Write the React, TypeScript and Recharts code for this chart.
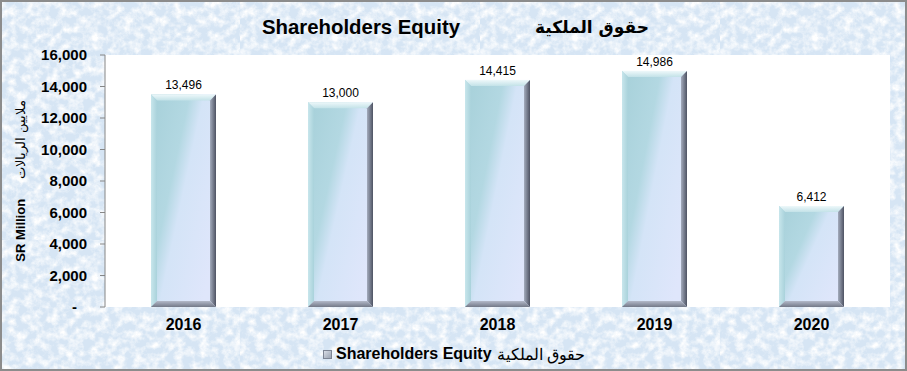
import React from "react";
import {
  Bar,
  BarChart,
  CartesianGrid,
  LabelList,
  Legend,
  XAxis,
  YAxis,
} from "recharts";

const years = ["2016", "2017", "2018", "2019", "2020"];
const equity = [13496, 13000, 14415, 14986, 6412];
const yTicks = [0, 2000, 4000, 6000, 8000, 10000, 12000, 14000, 16000];
const boundaryTicks = [0, 1, 2, 3, 4, 5];

const data = years.map((year, i) => ({ year, equity: equity[i] }));

const W = 907;
const H = 371;

const noiseSvg = `<svg xmlns='http://www.w3.org/2000/svg' width='240' height='240'><filter id='n'><feTurbulence type='fractalNoise' baseFrequency='0.12' numOctaves='4' seed='11'/><feColorMatrix values='0 0 0 0 1  0 0 0 0 1  0 0 0 0 1  2.2 0 0 0 -0.8'/></filter><rect width='240' height='240' filter='url(#n)'/></svg>`;
const noiseUrl = `url("data:image/svg+xml;utf8,${encodeURIComponent(noiseSvg)}")`;

const fmt = (v: number) => (v === 0 ? "-" : v.toLocaleString("en-US"));

const arial = "Arial, 'Liberation Sans', sans-serif";

function YTick({ x, y, payload }: any) {
  const v = payload.value as number;
  return (
    <text
      x={v === 0 ? x - 10 : x}
      y={y}
      dy={5}
      textAnchor="end"
      fontFamily={arial}
      fontWeight="bold"
      fontSize={15}
      fill="#000"
    >
      {fmt(v)}
    </text>
  );
}

function XTick({ x, y, payload }: any) {
  return (
    <text
      x={x}
      y={y}
      dy={15}
      textAnchor="middle"
      fontFamily={arial}
      fontWeight="bold"
      fontSize={16}
      fill="#000"
    >
      {payload.value}
    </text>
  );
}

function BevelBar(props: any) {
  const { x, y, width, height } = props;
  if (!height || height <= 0) return null;
  const b = 6;
  const x2 = x + width;
  const y2 = y + height;
  return (
    <g>
      <rect x={x} y={y} width={width} height={height} fill="url(#barFace)" />
      <polygon
        points={`${x},${y} ${x2},${y} ${x2 - b},${y + b} ${x + b},${y + b}`}
        fill="url(#bevTop)"
      />
      <polygon
        points={`${x},${y} ${x + b},${y + b} ${x + b},${y2 - b} ${x},${y2}`}
        fill="url(#bevLeft)"
      />
      <polygon
        points={`${x2},${y} ${x2},${y2} ${x2 - b},${y2 - b} ${x2 - b},${y + b}`}
        fill="url(#bevRight)"
      />
      <polygon
        points={`${x},${y2} ${x2},${y2} ${x2 - b},${y2 - b} ${x + b},${y2 - b}`}
        fill="url(#bevBottom)"
      />
    </g>
  );
}

function YLabel() {
  return (
    <text
      transform="translate(25,181) rotate(-90)"
      textAnchor="middle"
      fontFamily={arial}
      fill="#000"
    >
      <tspan fontWeight="bold" fontSize={13}>
        SR Million
      </tspan>
      <tspan fontSize={13} dx={20}>
        ملايين الريالات
      </tspan>
    </text>
  );
}

function LegendContent() {
  return (
    <div
      style={{
        height: 26,
        display: "flex",
        alignItems: "center",
        justifyContent: "center",
        paddingLeft: 18,
        fontFamily: arial,
        fontSize: 16,
        color: "#000",
      }}
    >
      <span
        style={{
          width: 7,
          height: 7,
          marginRight: 4,
          background: "linear-gradient(135deg, #d8dde6 0%, #9aa3b2 100%)",
          border: "1px solid #7d8594",
        }}
      />
      <span style={{ fontWeight: "bold" }}>Shareholders Equity</span>
      <span style={{ marginLeft: 5 }}>حقوق الملكية</span>
    </div>
  );
}

export default function App() {
  return (
    <div
      style={{
        position: "absolute",
        left: 0,
        top: 0,
        width: W,
        height: H,
        backgroundColor: "#d6e5f4",
        backgroundImage: noiseUrl,
        overflow: "hidden",
      }}
    >
      <svg
        width={W}
        height={50}
        style={{ position: "absolute", left: 0, top: 0 }}
      >
        <text
          x={262}
          y={34}
          textLength={198}
          lengthAdjust="spacingAndGlyphs"
          fontFamily="'Liberation Sans Narrow', Arial, sans-serif"
          fontWeight="bold"
          fontSize={21}
          fill="#000"
        >
          Shareholders Equity
        </text>
        <text
          x={592}
          y={33}
          textAnchor="middle"
          fontFamily="'DejaVu Sans', Arial, sans-serif"
          fontWeight="bold"
          fontSize={17}
          fill="#000"
        >
          حقوق الملكية
        </text>
      </svg>
      <BarChart
        width={W}
        height={H}
        data={data}
        margin={{ top: 55, right: 17, bottom: 4, left: 0 }}
        barSize={65}
        style={{ position: "absolute", left: 0, top: 0 }}
      >
        <defs>
          <linearGradient id="barFace" x1="0" y1="0" x2="1" y2="0.7">
            <stop offset="0%" stopColor="#a6d0d9" />
            <stop offset="40%" stopColor="#b3d8e2" />
            <stop offset="55%" stopColor="#d4e4f7" />
            <stop offset="100%" stopColor="#dfe6fb" />
          </linearGradient>
          <linearGradient id="bevTop" x1="0" y1="0" x2="0" y2="1">
            <stop offset="0%" stopColor="#eef8fa" />
            <stop offset="100%" stopColor="#c3e2e8" />
          </linearGradient>
          <linearGradient id="bevLeft" x1="0" y1="0" x2="1" y2="0">
            <stop offset="0%" stopColor="#c8e6ec" />
            <stop offset="100%" stopColor="#a9d2db" />
          </linearGradient>
          <linearGradient id="bevRight" x1="0" y1="0" x2="1" y2="0">
            <stop offset="0%" stopColor="#a4acbd" />
            <stop offset="100%" stopColor="#4e5363" />
          </linearGradient>
          <linearGradient id="bevBottom" x1="0" y1="0" x2="0" y2="1">
            <stop offset="0%" stopColor="#b3b9c9" />
            <stop offset="100%" stopColor="#737988" />
          </linearGradient>
        </defs>
        <CartesianGrid fill="#ffffff" horizontal={false} vertical={false} />
        <XAxis
          xAxisId="bounds"
          type="number"
          domain={[0, 5]}
          ticks={boundaryTicks}
          tick={false}
          tickSize={5}
          height={0}
          stroke="#868686"
          allowDataOverflow
        />
        <XAxis
          dataKey="year"
          axisLine={false}
          tickLine={false}
          tick={<XTick />}
          height={34}
          interval={0}
        />
        <YAxis
          domain={[0, 16000]}
          ticks={yTicks}
          width={105}
          tickSize={5}
          tickMargin={13}
          stroke="#868686"
          tick={<YTick />}
          interval={0}
          label={<YLabel />}
        />
        <Legend verticalAlign="bottom" align="center" content={<LegendContent />} />
        <Bar
          dataKey="equity"
          name="Shareholders Equity"
          shape={<BevelBar />}
          isAnimationActive={false}
        >
          <LabelList
            dataKey="equity"
            position="top"
            offset={5}
            formatter={(v: any) => fmt(Number(v))}
            style={{ fontFamily: arial, fontSize: 12, fill: "#000" }}
          />
        </Bar>
      </BarChart>
      <div
        style={{
          position: "absolute",
          inset: 0,
          border: "2px solid #8c8c8c",
          pointerEvents: "none",
        }}
      />
    </div>
  );
}
